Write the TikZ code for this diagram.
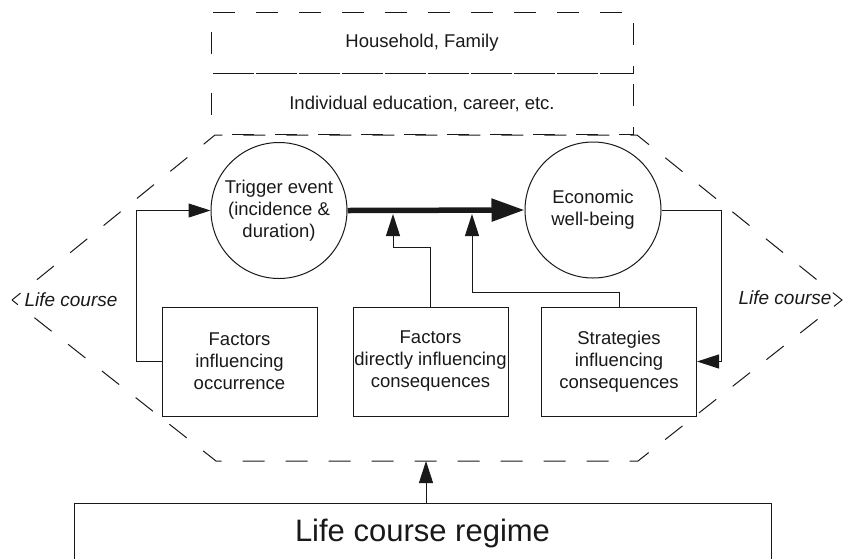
\documentclass[tikz,border=0pt]{standalone}
\usepackage{fontspec}
\setmainfont{Liberation Sans}
\usetikzlibrary{arrows.meta}
\newlength{\du}
\setlength{\du}{10\unitlength}

\begin{document}
\begin{tikzpicture}[even odd rule,
  txt/.style={font=\fontsize{18.5}{22}\selectfont, align=center, text=dialinecolor},
  box/.style={txt, draw=dialinecolor, line width=0.1\du, minimum width=15.5\du, minimum height=10.9\du, inner sep=0pt},
  ring/.style={txt, draw=dialinecolor, line width=0.1\du, circle, minimum size=13.6\du, inner sep=0pt},
  layer/.style={txt, draw=dialinecolor, line width=0.1\du, dash pattern=on 2.2\du off 2.1\du, dash phase=2.2\du, minimum width=42.2\du, minimum height=6.1\du, inner sep=0pt},
  conn/.style={draw=dialinecolor, line width=0.1\du, -{Triangle[length=22pt,width=14pt]}},
  mainconn/.style={draw=dialinecolor, line width=0.55\du, -{Triangle[length=33pt,width=22pt]}},
  lifelabel/.style={font=\fontsize{19}{22}\selectfont\itshape, text=dialinecolor, inner sep=0pt}]
\pgftransformxscale{1.000000}
\pgftransformyscale{-1.000000}
\definecolor{dialinecolor}{rgb}{0.100000, 0.100000, 0.100000}
\pgfsetstrokecolor{dialinecolor}
\pgfsetlinewidth{0.100000\du}
\useasboundingbox (0\du,0\du) rectangle (84.5\du,55.8\du);
% context layers
\node[layer] (family) at (42.2\du,4.3\du) {Household, Family};
\node[layer] (career) at (42.2\du,10.4\du) {Individual education, career, etc.};
% life course hexagon
\pgfsetdash{{2.2\du}{2.1\du}}{1.1\du}
\draw (1.2\du,30.0\du)--(21.5\du,13.5\du)--(63.7\du,13.5\du)--(84.2\du,30.0\du)--(63.8\du,46.1\du)--(21.6\du,46.1\du)--cycle;
\pgfsetdash{}{0pt}
\coordinate (hexbot) at (42.6\du,46.1\du);
\node[lifelabel, anchor=west] (lifeleft) at (2.4\du,30.0\du) {Life course};
\node[lifelabel, anchor=east] (liferight) at (83.2\du,29.8\du) {Life course};
% events
\node[ring] (trigger) at (27.9\du,21.05\du) {Trigger event\\(incidence \&\\duration)};
\node[ring] (econ) at (59.3\du,21.0\du) {Economic\\well-being};
% factors
\node[box] (occur) at (23.95\du,36.15\du) {Factors\\influencing\\occurrence};
\node[box] (direct) at (43.05\du,36.15\du) {Factors\\directly influencing\\consequences};
\node[box] (strat) at (61.9\du,36.15\du) {Strategies\\influencing\\consequences};
% regime
\node[txt, draw=dialinecolor, line width=0.1\du, font=\fontsize{31}{36}\selectfont, minimum width=69.7\du, minimum height=6.0\du, inner sep=0pt] (regime) at (42.25\du,53.3\du) {Life course regime};
\coordinate (tipA) at (39.3\du,21.4\du);
\coordinate (tipB) at (47.2\du,21.4\du);
% connectors
\draw[mainconn] (trigger.east)--(econ.west);
\draw[conn] (occur.west)--++(-2.5\du,0)|-(trigger.west);
\draw[conn] (econ.east)--++(6.0\du,0)|-(strat.east);
\draw[conn] (direct.north)--++(0,-5.9\du)-|(tipA);
\draw[conn] (strat.north)--++(0,-1.4\du)-|(tipB);
\draw[conn] (regime.north -| hexbot)--(hexbot);
\end{tikzpicture}
\end{document}
